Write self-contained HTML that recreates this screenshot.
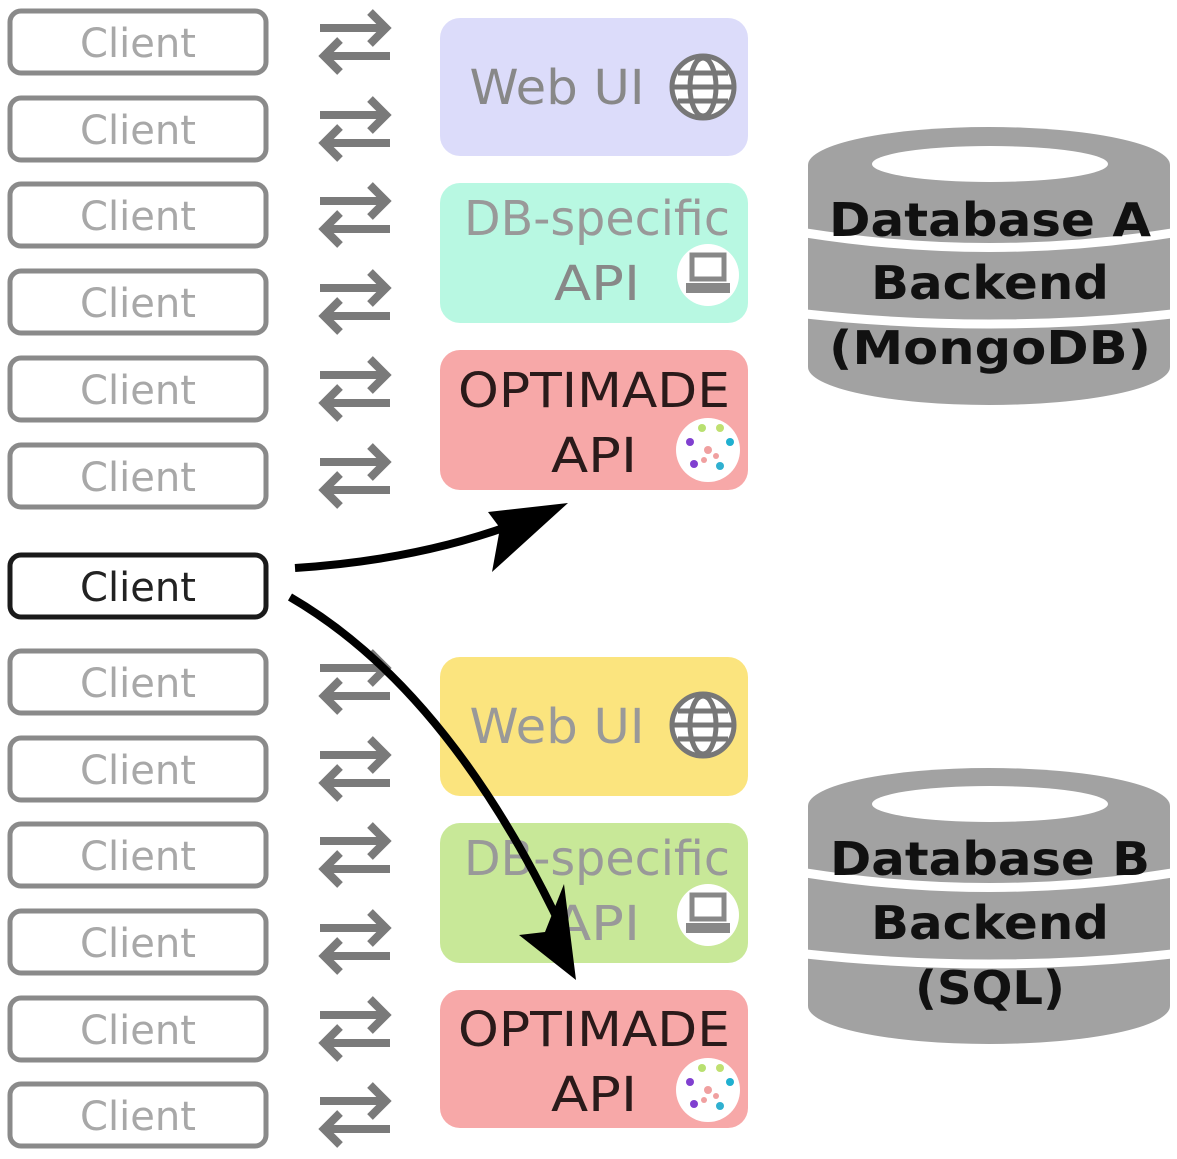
<!DOCTYPE html>
<html><head><meta charset="utf-8"><style>
html,body{margin:0;padding:0;background:#fff}
svg{display:block}
</style></head><body>
<svg width="1177" height="1159" viewBox="0 0 1177 1159" xmlns="http://www.w3.org/2000/svg" font-family="'DejaVu Sans','Liberation Sans',sans-serif">
<defs>
<g id="cb"><rect x="10" y="-31" width="256" height="62" rx="11" fill="#fff" stroke="#8a8a8a" stroke-width="5"/></g>
<g id="dar" fill="none" stroke="#7a7a7a" stroke-width="8">
<line x1="320" y1="-14" x2="384" y2="-14"/><polyline points="370,-30 386,-14 370,2"/>
<line x1="390" y1="14" x2="326" y2="14"/><polyline points="340,-2 324,14 340,30"/>
</g>
<g id="globe" fill="#fff" stroke="#777" stroke-width="5"><circle r="31"/><ellipse rx="13" ry="29"/><line x1="-29" y1="0" x2="29" y2="0"/><line x1="-25" y1="-14" x2="25" y2="-14"/><line x1="-25" y1="14" x2="25" y2="14"/></g>
<g id="comp"><circle r="31" fill="#fff"/><rect x="-16" y="-20" width="32" height="24" fill="#fff" stroke="#888" stroke-width="5"/><rect x="-22" y="8" width="44" height="10" fill="#888"/></g>
<g id="opt"><circle r="32" fill="#fff"/>
<circle cx="-18" cy="-8" r="4" fill="#8040d0"/><circle cx="22" cy="-8" r="4" fill="#20b0d0"/><circle cx="-14" cy="14" r="4" fill="#8040d0"/><circle cx="12" cy="16" r="4" fill="#30b0d0"/><circle cx="-6" cy="-22" r="4" fill="#b8e070"/><circle cx="12" cy="-22" r="4" fill="#c0e070"/><circle cx="0" cy="0" r="4" fill="#f0a0a0"/><circle cx="-4" cy="10" r="3" fill="#f0a0a0"/><circle cx="8" cy="6" r="3" fill="#f0a0a0"/></g>
</defs>

<g font-size="40" fill="#a8a8a8" text-anchor="middle">
<use href="#cb" y="42"/><text x="138" y="57" textLength="116" lengthAdjust="spacingAndGlyphs">Client</text>
<use href="#cb" y="129"/><text x="138" y="144" textLength="116" lengthAdjust="spacingAndGlyphs">Client</text>
<use href="#cb" y="215"/><text x="138" y="230" textLength="116" lengthAdjust="spacingAndGlyphs">Client</text>
<use href="#cb" y="302"/><text x="138" y="317" textLength="116" lengthAdjust="spacingAndGlyphs">Client</text>
<use href="#cb" y="389"/><text x="138" y="404" textLength="116" lengthAdjust="spacingAndGlyphs">Client</text>
<use href="#cb" y="476"/><text x="138" y="491" textLength="116" lengthAdjust="spacingAndGlyphs">Client</text>
<use href="#cb" y="682"/><text x="138" y="697" textLength="116" lengthAdjust="spacingAndGlyphs">Client</text>
<use href="#cb" y="769"/><text x="138" y="784" textLength="116" lengthAdjust="spacingAndGlyphs">Client</text>
<use href="#cb" y="855"/><text x="138" y="870" textLength="116" lengthAdjust="spacingAndGlyphs">Client</text>
<use href="#cb" y="942"/><text x="138" y="957" textLength="116" lengthAdjust="spacingAndGlyphs">Client</text>
<use href="#cb" y="1029"/><text x="138" y="1044" textLength="116" lengthAdjust="spacingAndGlyphs">Client</text>
<use href="#cb" y="1115"/><text x="138" y="1130" textLength="116" lengthAdjust="spacingAndGlyphs">Client</text>
</g>
<rect x="10" y="555" width="256" height="62" rx="11" fill="#fff" stroke="#1a1a1a" stroke-width="5"/>
<text x="138" y="601" font-size="40" fill="#222" text-anchor="middle" textLength="116" lengthAdjust="spacingAndGlyphs">Client</text>

<use href="#dar" y="42"/><use href="#dar" y="129"/><use href="#dar" y="215"/><use href="#dar" y="302"/><use href="#dar" y="389"/><use href="#dar" y="476"/>
<use href="#dar" y="682"/><use href="#dar" y="769"/><use href="#dar" y="855"/><use href="#dar" y="942"/><use href="#dar" y="1029"/><use href="#dar" y="1115"/>

<rect x="440" y="18" width="308" height="138" rx="20" fill="#dcdcfa"/>
<text x="557" y="104" font-size="48" fill="#888" text-anchor="middle" textLength="175" lengthAdjust="spacingAndGlyphs">Web UI</text>
<use href="#globe" x="703" y="87"/>
<rect x="440" y="183" width="308" height="140" rx="20" fill="#b8f8e2"/>
<text x="597" y="235" font-size="48" fill="#999" text-anchor="middle" textLength="266" lengthAdjust="spacingAndGlyphs">DB-specific</text>
<text x="597" y="300" font-size="48" fill="#888" text-anchor="middle" textLength="86" lengthAdjust="spacingAndGlyphs">API</text>
<use href="#comp" x="708" y="275"/>
<rect x="440" y="350" width="308" height="140" rx="20" fill="#f7a8a8"/>
<text x="594" y="407" font-size="48" fill="#2a1a1a" text-anchor="middle" textLength="272" lengthAdjust="spacingAndGlyphs">OPTIMADE</text>
<text x="594" y="472" font-size="48" fill="#2a1a1a" text-anchor="middle" textLength="86" lengthAdjust="spacingAndGlyphs">API</text>
<use href="#opt" x="708" y="450"/>

<rect x="440" y="657" width="308" height="139" rx="20" fill="#fbe47e"/>
<text x="557" y="743" font-size="48" fill="#999" text-anchor="middle" textLength="175" lengthAdjust="spacingAndGlyphs">Web UI</text>
<use href="#globe" x="703" y="725"/>
<rect x="440" y="823" width="308" height="140" rx="20" fill="#c8e898"/>
<text x="597" y="875" font-size="48" fill="#999" text-anchor="middle" textLength="266" lengthAdjust="spacingAndGlyphs">DB-specific</text>
<text x="597" y="940" font-size="48" fill="#999" text-anchor="middle" textLength="86" lengthAdjust="spacingAndGlyphs">API</text>
<use href="#comp" x="708" y="915"/>
<rect x="440" y="990" width="308" height="138" rx="20" fill="#f7a8a8"/>
<text x="594" y="1046" font-size="48" fill="#2a1a1a" text-anchor="middle" textLength="272" lengthAdjust="spacingAndGlyphs">OPTIMADE</text>
<text x="594" y="1111" font-size="48" fill="#2a1a1a" text-anchor="middle" textLength="86" lengthAdjust="spacingAndGlyphs">API</text>
<use href="#opt" x="708" y="1090"/>

<g>
<path d="M808,165 A181,38 0 0 1 1170,165 L1170,367 A181,38 0 0 1 808,367 Z" fill="#a2a2a2"/>
<ellipse cx="990" cy="164" rx="118" ry="18" fill="#fff"/>
<path d="M806,233 Q990,262 1172,233" fill="none" stroke="#fff" stroke-width="9"/>
<path d="M806,314 Q990,334 1172,314" fill="none" stroke="#fff" stroke-width="9"/>
<g font-size="46" font-weight="bold" fill="#111" text-anchor="middle">
<text x="990" y="236" textLength="322" lengthAdjust="spacingAndGlyphs">Database A</text>
<text x="990" y="299" textLength="238" lengthAdjust="spacingAndGlyphs">Backend</text>
<text x="990" y="364" textLength="322" lengthAdjust="spacingAndGlyphs">(MongoDB)</text>
</g>
</g>
<g>
<path d="M808,806 A181,38 0 0 1 1170,806 L1170,1006 A181,38 0 0 1 808,1006 Z" fill="#a2a2a2"/>
<ellipse cx="990" cy="804" rx="118" ry="18" fill="#fff"/>
<path d="M806,873 Q990,902 1172,873" fill="none" stroke="#fff" stroke-width="9"/>
<path d="M806,954 Q990,974 1172,954" fill="none" stroke="#fff" stroke-width="9"/>
<g font-size="46" font-weight="bold" fill="#111" text-anchor="middle">
<text x="990" y="875" textLength="320" lengthAdjust="spacingAndGlyphs">Database B</text>
<text x="990" y="939" textLength="238" lengthAdjust="spacingAndGlyphs">Backend</text>
<text x="990" y="1004" textLength="150" lengthAdjust="spacingAndGlyphs">(SQL)</text>
</g>
</g>

<path d="M295,568 Q420,560 520,522" fill="none" stroke="#000" stroke-width="8"/>
<polygon points="568,503 488,512 500,528 492,572" fill="#000"/>
<path d="M290,597 Q450,690 565,935" fill="none" stroke="#000" stroke-width="8"/>
<polygon points="576,980 519,935 545,932 564,884" fill="#000"/>
</svg>
</body></html>
